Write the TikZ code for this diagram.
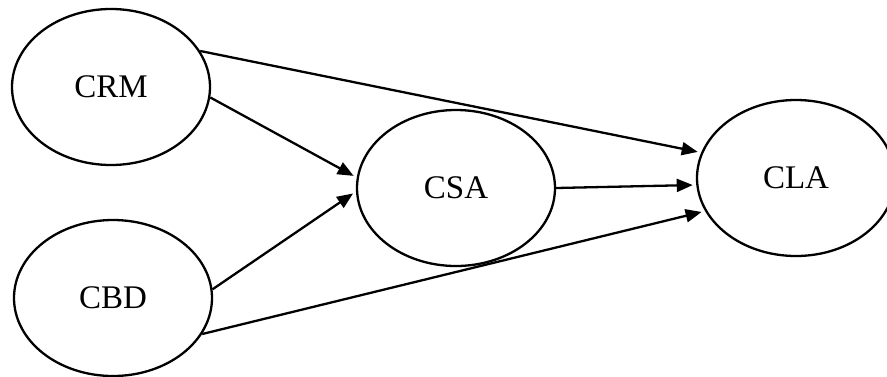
\documentclass[tikz,border=0pt]{standalone}
\usepackage{fontspec}
\setmainfont{Liberation Serif}
\usetikzlibrary{shapes.geometric,arrows.meta}
\begin{document}
\begin{tikzpicture}[x=1pt,y=-1pt,
  construct/.style={draw,ellipse,line width=2.3pt,minimum width=198pt,minimum height=156pt,inner sep=0pt,font=\fontsize{33}{39}\selectfont},
  link/.style={line width=2.3pt,-{Triangle[length=16pt,width=13pt]},shorten >=3.5pt}]
\useasboundingbox (0,0) rectangle (887,376);
\node[construct] (crm) at (111,87) {CRM};
\node[construct] (cbd) at (113,298) {CBD};
\node[construct] (csa) at (456,188) {CSA};
\node[construct] (cla) at (796,178) {CLA};
\draw[link] (crm.22) -- (cla.165);
\draw[link] (crm.-6) -- (csa.174);
\draw[link] (cbd.5) -- (csa.182);
\draw[link] (csa.0) -- (cla.184);
\draw[link] (cbd.-22) -- (cla.200);
\end{tikzpicture}
\end{document}
